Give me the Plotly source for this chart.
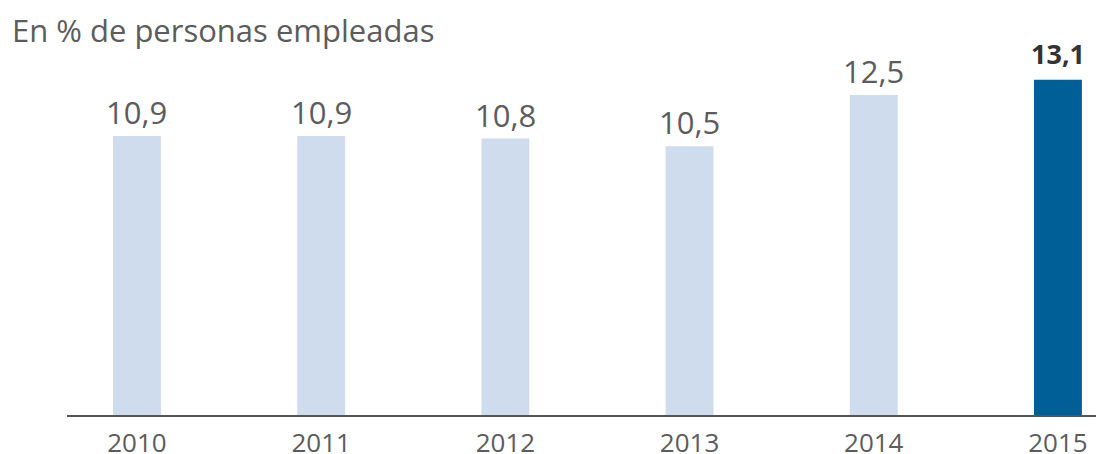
import plotly.graph_objects as go

years = [2010, 2011, 2012, 2013, 2014, 2015]
values = [10.9, 10.9, 10.8, 10.5, 12.5, 13.1]
labels = ["10,9", "10,9", "10,8", "10,5", "12,5", "13,1"]
tick_labels = ["2010", "2011", "2012", "2013", "2014", "2015"]
colors = ["#cfdcee", "#cfdcee", "#cfdcee", "#cfdcee", "#cfdcee", "#005f96"]
title = "En % de personas empleadas"

FONT = "Open Sans"
OFF = 8  # page body margin
W, H = 1104 - OFF, 454 - OFF
L, R, T, B = 67 - OFF, 0, 60 - OFF, 454 - 415
PW, PH = W - L - R, H - T - B

fig = go.Figure()
fig.add_trace(go.Bar(
    x=years, y=values, width=0.26,
    marker=dict(color=colors, line=dict(width=0)),
    hoverinfo="skip",
))

for i, (x, v, lab) in enumerate(zip(years, values, labels)):
    bold = i == len(years) - 1
    fig.add_annotation(
        x=x, y=v, xref="x", yref="y",
        text=f"<b>{lab}</b>" if bold else lab,
        showarrow=False, yanchor="bottom", yshift=6 if bold else 1,
        font=dict(family=FONT, size=27 if bold else 31,
                  color="#333333" if bold else "#5c5c5c"),
    )

fig.add_annotation(
    xref="paper", yref="paper",
    x=(10 - OFF - L) / PW, y=1 + (T + OFF - 7) / PH,
    xanchor="left", yanchor="top",
    text=title, showarrow=False,
    font=dict(family=FONT, size=31, color="#5c5c5c"),
)

fig.update_layout(
    width=W, height=H,
    margin=dict(l=L, r=R, t=T, b=B, autoexpand=False),
    plot_bgcolor="white", paper_bgcolor="white",
    showlegend=False,
    xaxis=dict(
        range=[2009.62, 2015.25],
        tickmode="array", tickvals=years, ticktext=tick_labels,
        showgrid=False, zeroline=False, automargin=False,
        showline=True, linecolor="#555555", linewidth=1.5,
        ticks="", ticklabelstandoff=4,
        tickfont=dict(family=FONT, size=26, color="#5c5c5c"),
    ),
    yaxis=dict(range=[0, 13.87], visible=False, showgrid=False,
               zeroline=False, automargin=False),
)

fig.write_html("out.html")
